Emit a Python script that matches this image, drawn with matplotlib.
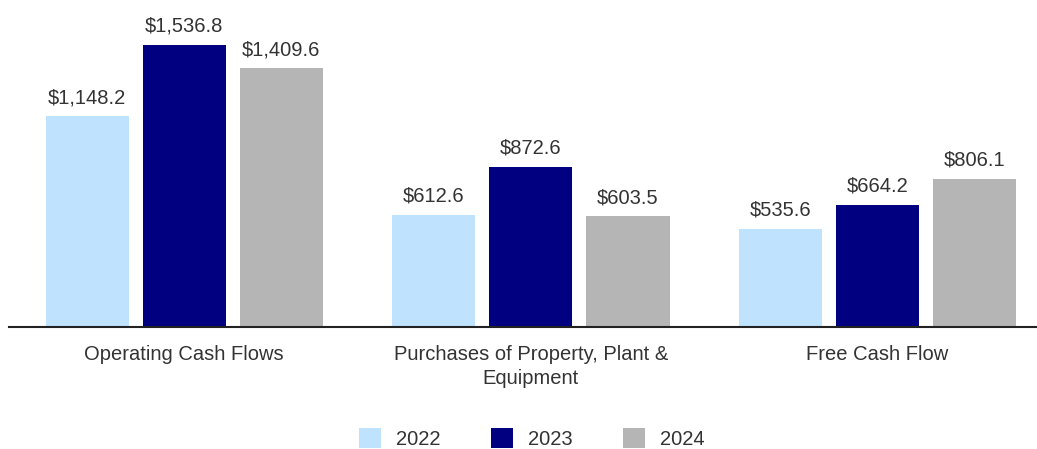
import numpy as np
import matplotlib.pyplot as plt

plt.rcParams['font.family'] = ['Liberation Sans', 'DejaVu Sans']

categories = ["Operating Cash Flows", "Purchases of Property, Plant &\nEquipment", "Free Cash Flow"]
years = ["2022", "2023", "2024"]
v2022 = [1148.2, 612.6, 535.6]
v2023 = [1536.8, 872.6, 664.2]
v2024 = [1409.6, 603.5, 806.1]
colors = ["#BFE3FF", "#000080", "#B5B5B5"]

fig = plt.figure(figsize=(10.37, 4.49), dpi=100)
ax = fig.add_axes([9 / 1037, 122 / 449, 1 - 9 / 1037, 327 / 449])

x = np.arange(len(categories))
offsets = [-0.28, 0, 0.28]
width = 0.24
for vals, off, c, yr in zip([v2022, v2023, v2024], offsets, colors, years):
    bars = ax.bar(x + off, vals, width, color=c, label=yr)
    for b, v in zip(bars, vals):
        ax.text(b.get_x() + b.get_width() / 2, v + 50, f"${v:,.1f}",
                ha="center", va="bottom", fontsize=14.5, color="#333333")

ax.set_xlim(-0.5055, 2.46)
ax.set_ylim(0, 1782)
for s in ["top", "right", "left"]:
    ax.spines[s].set_visible(False)
ax.spines["bottom"].set_color("#222222")
ax.spines["bottom"].set_linewidth(1.5)
ax.set_yticks([])
ax.set_xticks(x)
ax.set_xticklabels(categories, fontsize=14.5, color="#333333", linespacing=1.3)
ax.tick_params(axis="x", length=0, pad=13)

leg = fig.legend(loc="lower center", bbox_to_anchor=(0.513, -0.04), ncol=3, frameon=False,
                 fontsize=14.5, handlelength=1.1, handleheight=1.1, columnspacing=2.5,
                 handletextpad=0.75)
for t in leg.get_texts():
    t.set_color("#333333")

fig.savefig("out.png", dpi=100)
